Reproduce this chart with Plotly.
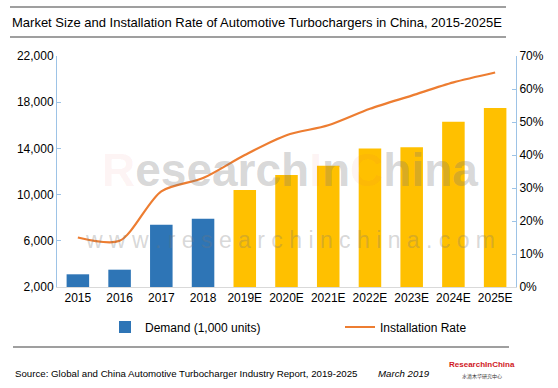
import plotly.graph_objects as go

years = ["2015", "2016", "2017", "2018", "2019E", "2020E", "2021E", "2022E", "2023E", "2024E", "2025E"]
demand = [3100, 3500, 7400, 7900, 10400, 11700, 12500, 14000, 14100, 16300, 17500]
install_rate = [0.15, 0.14, 0.29, 0.33, 0.40, 0.46, 0.49, 0.54, 0.58, 0.62, 0.65]
n_hist = 4

BLUE = "#2E75B6"
GOLD = "#FFC000"
ORANGE = "#ED7D31"
FONT = "Liberation Sans, Arial, sans-serif"

# plot area pixel geometry (for paper-coordinate helpers)
L, R, T, B = 57, 516, 56, 287
W, H = 558, 388
def px(x):
    return (x - L) / (R - L)
def py(y):
    return (B - y) / (B - T)

fig = go.Figure()
fig.add_trace(go.Bar(
    x=years[:n_hist], y=demand[:n_hist], name="Demand (1,000 units)",
    marker=dict(color=BLUE, line=dict(width=0)), yaxis="y", legend="legend",
))
fig.add_trace(go.Bar(
    x=years[n_hist:], y=demand[n_hist:], name="Demand forecast",
    marker=dict(color=GOLD, line=dict(width=0)), yaxis="y", showlegend=False,
))
fig.add_trace(go.Scatter(
    x=years, y=install_rate, name="Installation Rate", mode="lines",
    line=dict(color=ORANGE, width=2.2, shape="spline", smoothing=0.8),
    yaxis="y2", legend="legend2",
))

wm_gray = "rgba(120,120,120,0.30)"
wm_red = "rgba(225,90,90,0.25)"
big = ("<span style='color:%s'>R</span>esearch<span style='color:%s'>I</span>n"
       "<span style='color:%s'>C</span>hina") % (wm_red, wm_red, wm_red)

annotations = [
    dict(text="<b>" + big + "</b>", x=px(290), y=py(170), xref="paper", yref="paper",
         showarrow=False, xanchor="center", yanchor="middle",
         font=dict(family=FONT, size=46, color=wm_gray)),
    dict(text="w w w . r e s e a r c h i n c h i n a . c o m", x=px(290), y=py(240),
         xref="paper", yref="paper", showarrow=False, xanchor="center", yanchor="middle",
         font=dict(family=FONT, size=23, color=wm_gray)),
    dict(text="Market Size and Installation Rate of Automotive Turbochargers in China, 2015-2025E",
         x=px(10), y=py(22), xref="paper", yref="paper", showarrow=False,
         xanchor="left", yanchor="middle", font=dict(family=FONT, size=13, color="#000000")),
    dict(text="Source: Global and China Automotive Turbocharger Industry Report, 2019-2025",
         x=px(13), y=py(373), xref="paper", yref="paper", showarrow=False,
         xanchor="left", yanchor="middle", font=dict(family=FONT, size=9.7, color="#000000")),
    dict(text="<i>March 2019</i>", x=px(376), y=py(373), xref="paper", yref="paper",
         showarrow=False, xanchor="left", yanchor="middle",
         font=dict(family=FONT, size=9.7, color="#000000")),
    dict(text="<b>ResearchInChina</b>", x=px(482), y=py(364), xref="paper", yref="paper",
         showarrow=False, xanchor="center", yanchor="middle",
         font=dict(family=FONT, size=8, color="#D0171E")),
    dict(text="水清木华研究中心", x=px(482), y=py(376), xref="paper", yref="paper",
         showarrow=False, xanchor="center", yanchor="middle",
         font=dict(family="Noto Sans CJK SC", size=5, color="#333333")),
]

shapes = [
    dict(type="line", xref="paper", yref="paper", x0=px(10), x1=px(506), y0=py(7), y1=py(7),
         line=dict(color="#7F7F7F", width=1.5)),
    dict(type="line", xref="paper", yref="paper", x0=px(10), x1=px(506), y0=py(37), y1=py(37),
         line=dict(color="#7F7F7F", width=1.5)),
    dict(type="line", xref="paper", yref="paper", x0=px(13), x1=px(509), y0=py(347), y1=py(347),
         line=dict(color="#7F7F7F", width=1.5)),
]

legend_common = dict(orientation="h", yanchor="middle", xanchor="left",
                     font=dict(family=FONT, size=12, color="#000000"),
                     bgcolor="rgba(0,0,0,0)", itemwidth=30)

fig.update_layout(
    width=W, height=H,
    margin=dict(l=L, r=W - R, t=T, b=H - B, pad=0, autoexpand=False),
    paper_bgcolor="white", plot_bgcolor="white",
    font=dict(family=FONT, size=12, color="#000000"),
    barmode="overlay", bargap=0.46,
    showlegend=True,
    legend=dict(x=px(105), y=py(327), **legend_common),
    legend2=dict(x=px(340), y=py(327), **legend_common),
    xaxis=dict(type="category", categoryorder="array", categoryarray=years,
               showline=True, linecolor="#D9D9D9", linewidth=1, ticks="",
               showgrid=False, tickfont=dict(size=12)),
    yaxis=dict(range=[2000, 22000], dtick=4000, tick0=2000, tickformat=",",
               showline=True, linecolor="#9DC3E6", linewidth=1, ticks="inside",
               ticklen=4, tickcolor="#9DC3E6", showgrid=False, zeroline=False,
               tickfont=dict(size=12)),
    yaxis2=dict(range=[0, 0.7], dtick=0.1, tickformat=".0%", overlaying="y", side="right",
                showline=True, linecolor="#9DC3E6", linewidth=1, ticks="inside",
                ticklen=4, tickcolor="#9DC3E6", showgrid=False, zeroline=False,
                tickfont=dict(size=12)),
    annotations=annotations,
    shapes=shapes,
)

fig.write_html("out.html", config={"displayModeBar": False},
               post_script="document.body.style.margin='0';")
